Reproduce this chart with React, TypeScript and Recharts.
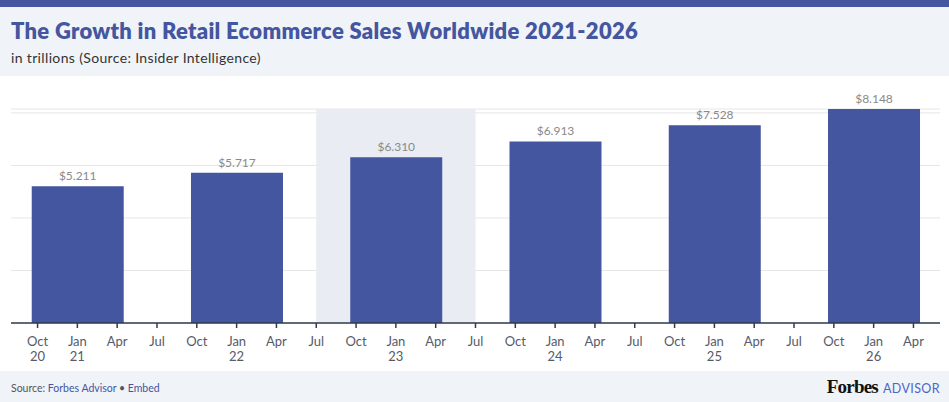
import { BarChart, Bar, XAxis, YAxis, CartesianGrid, ReferenceArea, LabelList } from 'recharts';

const years = [2021, 2022, 2023, 2024, 2025, 2026];
const sales = [5.211, 5.717, 6.31, 6.913, 7.528, 8.148];
const monthNames = ['Jan', 'Apr', 'Jul', 'Oct'];
const yTicks = [0, 2, 4, 6, 8];
// highlighted period: Jul 2022 to Jul 2023
const highlightStart = { year: 2022, month: 6 };
const highlightEnd = { year: 2023, month: 6 };

// x is counted in months since Jan 2020
const toX = (year: number, month: number) => (year - 2020) * 12 + month;

const data = years.map((y, i) => ({ x: toX(y, 0), value: sales[i] }));

// quarterly ticks from Oct 20 to Apr 26
const xTicks: number[] = [];
for (let m = toX(2020, 9); m <= toX(2026, 3); m += 3) xTicks.push(m);

const BLUE = '#44569f';
const FONT = 'Lato, "Noto Sans", sans-serif';

const MonthTick = (props: any) => {
  const { x, y, payload, index } = props;
  const m = payload.value as number;
  const name = monthNames[(m % 12) / 3];
  const yr = String(2020 + Math.floor(m / 12)).slice(2);
  const showYear = name === 'Jan' || index === 0;
  return (
    <g transform={`translate(${x},${y})`}>
      <text x={0} y={0} dy={16} textAnchor="middle" fill="#555b6a" fontSize={13} fontFamily={FONT}>
        {name}
      </text>
      {showYear && (
        <text x={0} y={0} dy={31} textAnchor="middle" fill="#555b6a" fontSize={13} fontFamily={FONT}>
          {yr}
        </text>
      )}
    </g>
  );
};

export default function App() {
  return (
    <div style={{ position: 'absolute', left: 0, top: 0, width: 949, height: 402, background: '#fff', fontFamily: FONT }}>
      <div style={{ height: 7, background: BLUE }} />
      <div style={{ height: 69, background: '#f0f3f8', position: 'relative' }}>
        <div style={{ position: 'absolute', left: 11, top: 10, fontSize: 22, fontWeight: 800, color: BLUE, letterSpacing: 0.3, whiteSpace: 'nowrap' }}>
          The Growth in Retail Ecommerce Sales Worldwide 2021-2026
        </div>
        <div style={{ position: 'absolute', left: 11, top: 42, fontSize: 14, color: '#333', letterSpacing: 0.35, whiteSpace: 'nowrap' }}>
          in trillions (Source: Insider Intelligence)
        </div>
      </div>

      <BarChart width={949} height={295} data={data} margin={{ top: 33, right: 9, left: 11, bottom: 0 }}>
        <ReferenceArea
          x1={toX(highlightStart.year, highlightStart.month)}
          x2={toX(highlightEnd.year, highlightEnd.month)}
          fill="#e9ecf3"
          fillOpacity={1}
          stroke="none"
        />
        <CartesianGrid vertical={false} stroke="#e6e6e6" />
        <XAxis
          dataKey="x"
          type="number"
          domain={[7, 77]}
          ticks={xTicks}
          interval={0}
          tick={<MonthTick />}
          tickSize={5}
          height={48}
          axisLine={{ stroke: '#2f3b4f', strokeWidth: 1.5 }}
          tickLine={{ stroke: '#2f3b4f', strokeWidth: 1.5 }}
        />
        <YAxis hide domain={[0, 'dataMax']} ticks={yTicks} />
        <Bar dataKey="value" fill={BLUE} barSize={92} isAnimationActive={false}>
          <LabelList
            dataKey="value"
            position="top"
            offset={6}
            formatter={(v: any) => `$${Number(v).toFixed(3)}`}
            fill="#8a8a8a"
            fontSize={12}
            fontFamily={FONT}
          />
        </Bar>
      </BarChart>

      <div style={{ position: 'absolute', left: 0, top: 371, width: 949, height: 31, background: '#f0f3f8' }}>
        <div style={{ position: 'absolute', left: 11, top: 11, fontSize: 10.5, color: '#555', whiteSpace: 'nowrap' }}>
          Source: <span style={{ color: BLUE }}>Forbes Advisor</span> • <span style={{ color: BLUE }}>Embed</span>
        </div>
        <div style={{ position: 'absolute', right: 9, top: 5, whiteSpace: 'nowrap', display: 'flex', alignItems: 'baseline' }}>
          <span style={{ fontFamily: '"Liberation Serif", "DejaVu Serif", serif', fontWeight: 700, fontSize: 19, color: '#111', letterSpacing: -0.8 }}>
            Forbes
          </span>
          <span style={{ fontSize: 12.5, color: '#4b66c7', marginLeft: 5, letterSpacing: 0.4 }}>ADVISOR</span>
        </div>
      </div>
    </div>
  );
}
